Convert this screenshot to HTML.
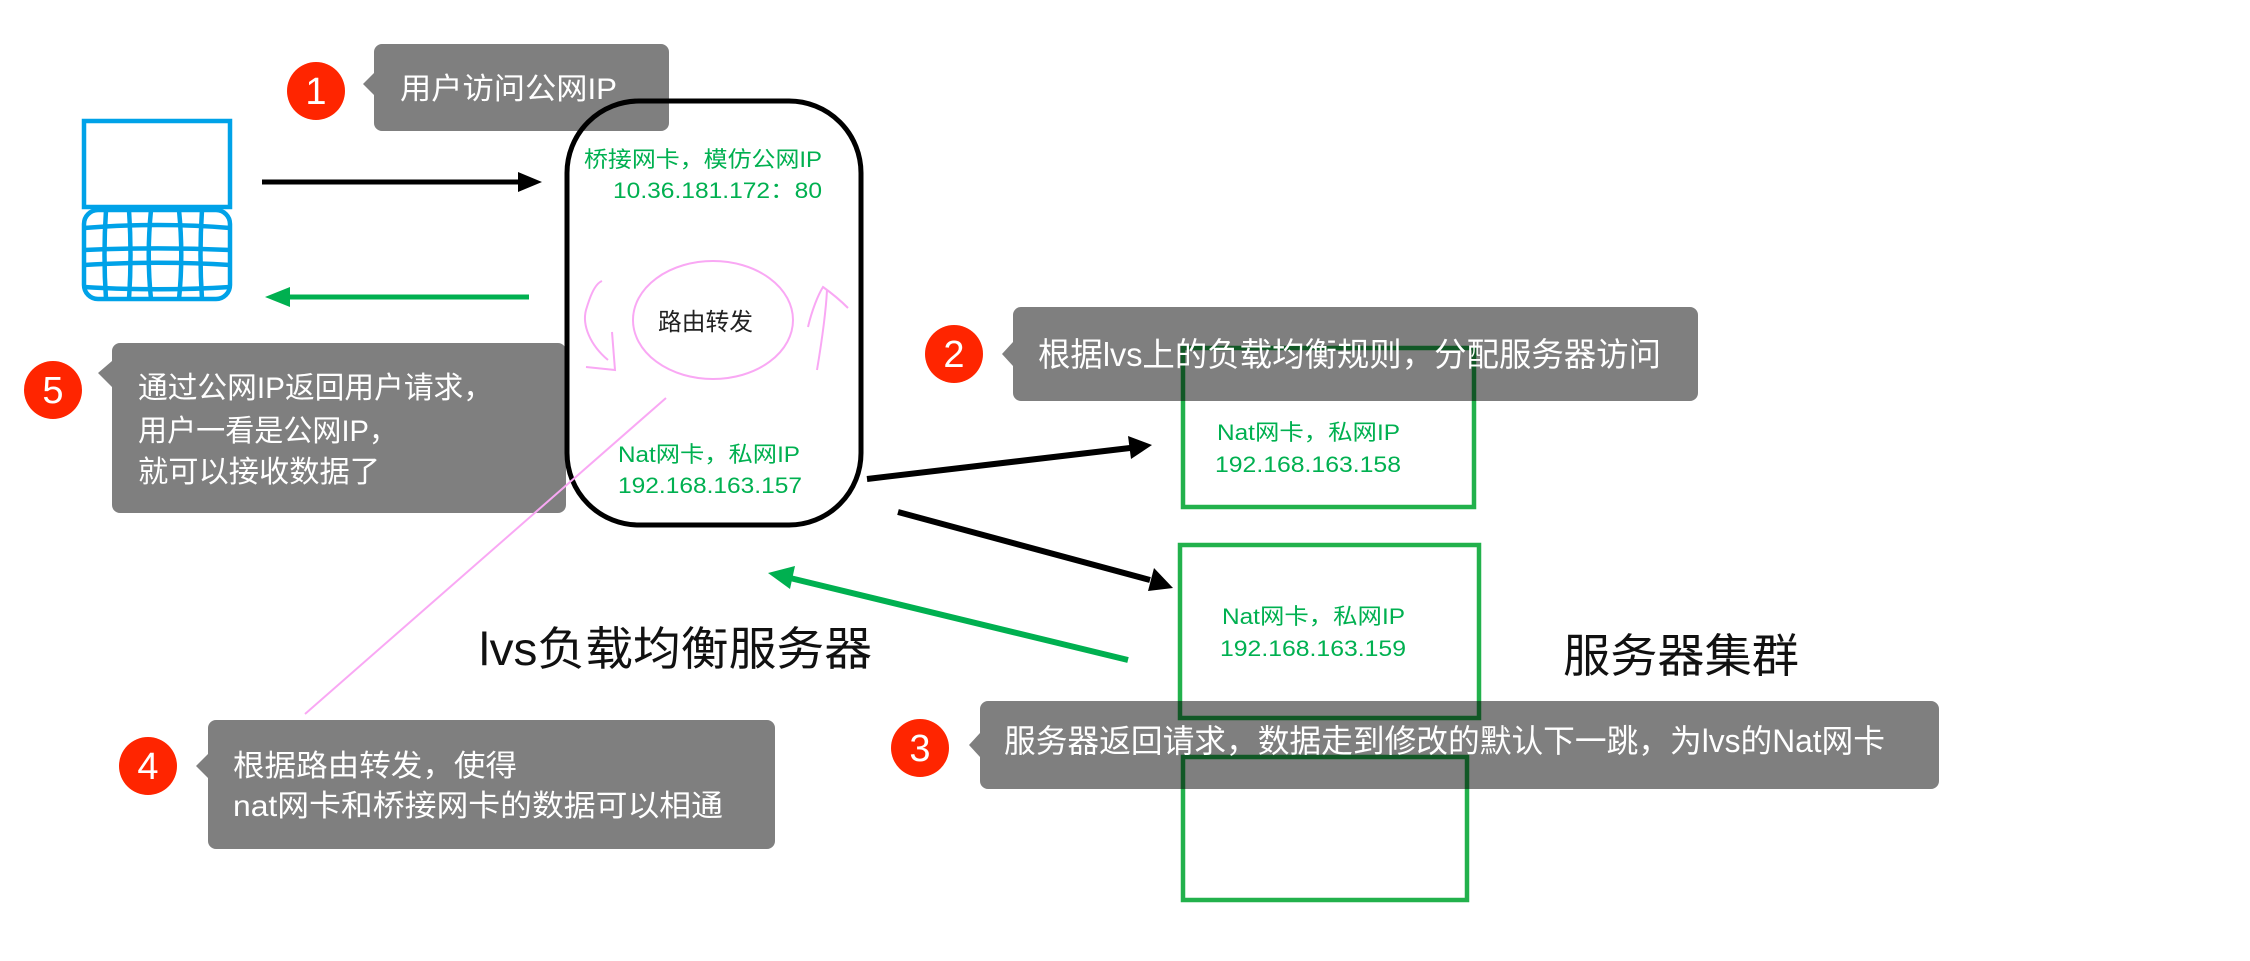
<!DOCTYPE html>
<html><head><meta charset="utf-8"><style>html,body{margin:0;padding:0;background:#fff}svg{display:block}</style></head>
<body>
<svg width="2250" height="961" viewBox="0 0 2250 961" xmlns="http://www.w3.org/2000/svg" font-family="'Liberation Sans','Noto Sans CJK SC',sans-serif">
<g fill="none" stroke="#22b14c" stroke-width="4.5">
<rect x="1183" y="348" width="291" height="159"/>
<rect x="1180" y="545" width="299" height="173"/>
<rect x="1183" y="757" width="284" height="143"/>
</g>
<g fill="none" stroke="#00a2e8" stroke-width="4.5">
<rect x="84" y="121" width="146" height="86"/>
<rect x="84" y="210" width="146" height="89" rx="14"/>
<path d="M106 210 C104 240 104 270 106 299 M129 210 C131 240 131 270 129 299 M151 210 C148 240 148 270 151 299 M179 210 C182 240 182 270 179 299 M202 210 C200 240 200 270 202 299"/>
<path d="M84 228 C130 224 185 224 230 228 M84 250 C130 248 185 248 230 250 M84 265 C130 262 185 262 230 265 M84 287 C130 290 185 290 230 287"/>
</g>
<rect x="567" y="101" width="294" height="424" rx="72" fill="none" stroke="#000" stroke-width="5"/>
<g stroke-linecap="butt">
<line x1="262" y1="182" x2="520" y2="182" stroke="#000" stroke-width="5"/>
<polygon points="542,182 518,172 518,192" fill="#000"/>
<line x1="529" y1="297" x2="285" y2="297" stroke="#00b050" stroke-width="5"/>
<polygon points="265,297 290,287 290,307" fill="#00b050"/>
<line x1="867" y1="479" x2="1130" y2="448" stroke="#000" stroke-width="6"/>
<polygon points="1152,445 1128,436 1131,459" fill="#000"/>
<line x1="898" y1="512" x2="1150" y2="580" stroke="#000" stroke-width="6"/>
<polygon points="1173,588 1154,568 1148,591" fill="#000"/>
<line x1="1128" y1="660" x2="790" y2="578" stroke="#00b050" stroke-width="6"/>
<polygon points="768,573 795,566 790,589" fill="#00b050"/>
</g>
<g fill="none" stroke="#f9a8f4" stroke-width="2">
<ellipse cx="713" cy="320" rx="80" ry="59"/>
<path d="M602 281 C594 284 589 300 586 310 C582 325 590 345 608 360"/>
<path d="M612 332 L615 370 L586 367"/>
<path d="M817 370 C822 340 826 310 827 290"/>
<path d="M808 327 C812 310 818 295 823 287 C830 292 840 300 848 308"/>
</g>
<text x="658" y="330" font-size="24" fill="#222" textLength="95" lengthAdjust="spacingAndGlyphs">路由转发</text>
<g fill="#00b050" font-size="22">
<text x="584" y="167" textLength="238" lengthAdjust="spacingAndGlyphs">桥接网卡，模仿公网IP</text>
<text x="613" y="198" textLength="209" lengthAdjust="spacingAndGlyphs">10.36.181.172：80</text>
<text x="618" y="462" textLength="182" lengthAdjust="spacingAndGlyphs">Nat网卡，私网IP</text>
<text x="618" y="493" textLength="184" lengthAdjust="spacingAndGlyphs">192.168.163.157</text>
<text x="1217" y="440" textLength="183" lengthAdjust="spacingAndGlyphs">Nat网卡，私网IP</text>
<text x="1215" y="472" textLength="186" lengthAdjust="spacingAndGlyphs">192.168.163.158</text>
<text x="1222" y="624" textLength="183" lengthAdjust="spacingAndGlyphs">Nat网卡，私网IP</text>
<text x="1220" y="656" textLength="186" lengthAdjust="spacingAndGlyphs">192.168.163.159</text>
</g>
<text x="479" y="665" font-size="46" fill="#111" textLength="393" lengthAdjust="spacingAndGlyphs">lvs负载均衡服务器</text>
<text x="1563" y="672" font-size="46" fill="#111" textLength="236" lengthAdjust="spacingAndGlyphs">服务器集群</text>
<g fill="rgba(0,0,0,0.5)">
<path d="M382 44 H661 a8 8 0 0 1 8 8 V123 a8 8 0 0 1 -8 8 H382 a8 8 0 0 1 -8 -8 V95 L363 84 L374 73 V52 a8 8 0 0 1 8 -8 Z"/>
<path d="M1021 307 H1690 a8 8 0 0 1 8 8 V393 a8 8 0 0 1 -8 8 H1021 a8 8 0 0 1 -8 -8 V366 L1002 354 L1013 342 V315 a8 8 0 0 1 8 -8 Z"/>
<path d="M988 701 H1931 a8 8 0 0 1 8 8 V781 a8 8 0 0 1 -8 8 H988 a8 8 0 0 1 -8 -8 V757 L969 745 L980 733 V709 a8 8 0 0 1 8 -8 Z"/>
<path d="M120 343 H558 a8 8 0 0 1 8 8 V505 a8 8 0 0 1 -8 8 H120 a8 8 0 0 1 -8 -8 V387 L98 373 L112 361 V351 a8 8 0 0 1 8 -8 Z"/>
<path d="M216 720 H767 a8 8 0 0 1 8 8 V841 a8 8 0 0 1 -8 8 H216 a8 8 0 0 1 -8 -8 V778 L196 766 L208 754 V728 a8 8 0 0 1 8 -8 Z"/>
</g>
<line x1="666" y1="398" x2="305" y2="714" stroke="#f9a8f4" stroke-width="2"/>
<g fill="#fff" font-size="30">
<text x="400" y="99" textLength="217" lengthAdjust="spacingAndGlyphs">用户访问公网IP</text>
<text x="1038" y="366" font-size="33" textLength="623" lengthAdjust="spacingAndGlyphs">根据lvs上的负载均衡规则，分配服务器访问</text>
<text x="1004" y="752" font-size="32" textLength="881" lengthAdjust="spacingAndGlyphs">服务器返回请求，数据走到修改的默认下一跳，为lvs的Nat网卡</text>
<text x="138" y="398" textLength="355" lengthAdjust="spacingAndGlyphs">通过公网IP返回用户请求，</text>
<text x="138" y="441" textLength="260" lengthAdjust="spacingAndGlyphs">用户一看是公网IP，</text>
<text x="138" y="482" textLength="242" lengthAdjust="spacingAndGlyphs">就可以接收数据了</text>
<text x="233" y="776" textLength="284" lengthAdjust="spacingAndGlyphs">根据路由转发，使得</text>
<text x="233" y="816" textLength="490" lengthAdjust="spacingAndGlyphs">nat网卡和桥接网卡的数据可以相通</text>
</g>
<g fill="#ff2500">
<circle cx="316" cy="91" r="29"/>
<circle cx="954" cy="354" r="29"/>
<circle cx="920" cy="748" r="29"/>
<circle cx="148" cy="766" r="29"/>
<circle cx="53" cy="390" r="29"/>
</g>
<g fill="#fff" font-size="38" text-anchor="middle">
<text x="316" y="104">1</text>
<text x="954" y="367">2</text>
<text x="920" y="761">3</text>
<text x="148" y="779">4</text>
<text x="53" y="403">5</text>
</g>
</svg>
</body></html>
